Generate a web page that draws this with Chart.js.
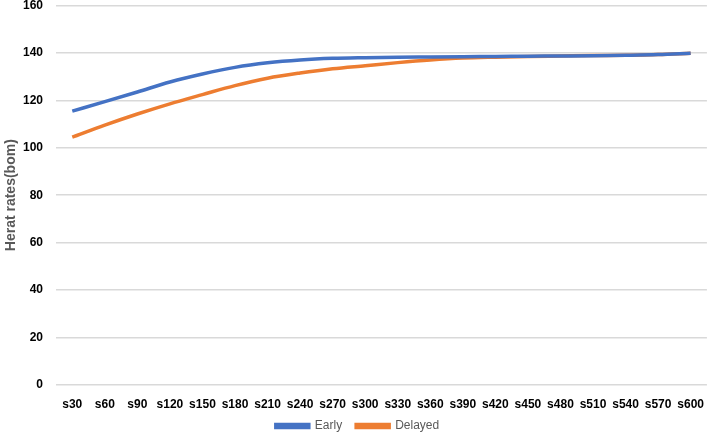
<!DOCTYPE html>
<html>
<head>
<meta charset="utf-8">
<script src="https://cdn.jsdelivr.net/npm/chart.js@4"></script>
<style>
    html, body { margin: 0; padding: 0; background: #fff; }
    #wrap { width: 709px; height: 442px; }
</style>
</head>
<body>
<div id="wrap"><canvas id="myChart" width="709" height="442"></canvas></div>
<script>
const labels = ['s30', 's60', 's90', 's120', 's150', 's180', 's210', 's240', 's270', 's300',
    's330', 's360', 's390', 's420', 's450', 's480', 's510', 's540', 's570', 's600'];
const early = [115.5, 119.5, 123.6, 127.8, 131.2, 134.0, 135.9, 137.1, 137.8, 138.1,
    138.3, 138.4, 138.5, 138.6, 138.7, 138.8, 138.9, 139.1, 139.4, 140.0];
const delayed = [104.5, 109.6, 114.3, 118.6, 122.5, 126.3, 129.4, 131.6, 133.4, 134.7,
    136.0, 137.1, 137.9, 138.3, 138.6, 138.8, 139.0, 139.1, 139.4, 140.0];
const yTitle = 'Herat rates(bom)';

const font = "'Liberation Sans', Arial, sans-serif";

// legend padding also sets the item gap, so pull the drawn items up a bit
const legendNudge = {
    id: 'legendNudge',
    afterLayout(chart) {
        const lg = chart.legend;
        if (lg) {
            lg.top -= 11;
        }
    }
};

const ctx = document.getElementById('myChart').getContext('2d');
new Chart(ctx, {
    type: 'line',
    data: {
        labels: labels,
        datasets: [
            {
                label: 'Early',
                data: early,
                borderColor: '#4472C4',
                backgroundColor: '#4472C4',
                borderWidth: 3.5,
                pointRadius: 0,
                cubicInterpolationMode: 'monotone'
            },
            {
                label: 'Delayed',
                data: delayed,
                borderColor: '#ED7D31',
                backgroundColor: '#ED7D31',
                borderWidth: 3.5,
                pointRadius: 0,
                cubicInterpolationMode: 'monotone'
            }
        ]
    },
    options: {
        responsive: false,
        animation: false,
        layout: { padding: { top: 0, right: -6, bottom: 3, left: 0 } },
        plugins: {
            legend: {
                position: 'bottom',
                maxHeight: 22,
                labels: {
                    boxWidth: 33,
                    boxHeight: 3,
                    padding: 14,
                    color: '#595959',
                    font: { family: font, size: 12 }
                }
            },
            tooltip: { enabled: false }
        },
        scales: {
            x: {
                offset: true,
                grid: { display: false },
                border: { display: false },
                ticks: {
                    autoSkip: false,
                    maxRotation: 0,
                    color: '#000',
                    padding: 5,
                    font: { family: font, size: 12, weight: 'bold' }
                }
            },
            y: {
                min: 0,
                max: 160,
                grid: { color: '#d9d9d9', lineWidth: 1.5, drawTicks: true, tickLength: 12, tickColor: 'rgba(0,0,0,0)' },
                border: { display: false },
                ticks: {
                    stepSize: 20,
                    color: '#000',
                    padding: 1,
                    font: { family: font, size: 12, weight: 'bold', lineHeight: 0.8 }
                },
                title: {
                    display: true,
                    text: yTitle,
                    color: '#595959',
                    padding: { top: 3, bottom: 0 },
                    font: { family: font, size: 14, weight: 'bold' }
                },
                afterFit(scale) {
                    scale.width = 56;
                }
            }
        }
    },
    plugins: [legendNudge]
});
</script>
</body>
</html>
